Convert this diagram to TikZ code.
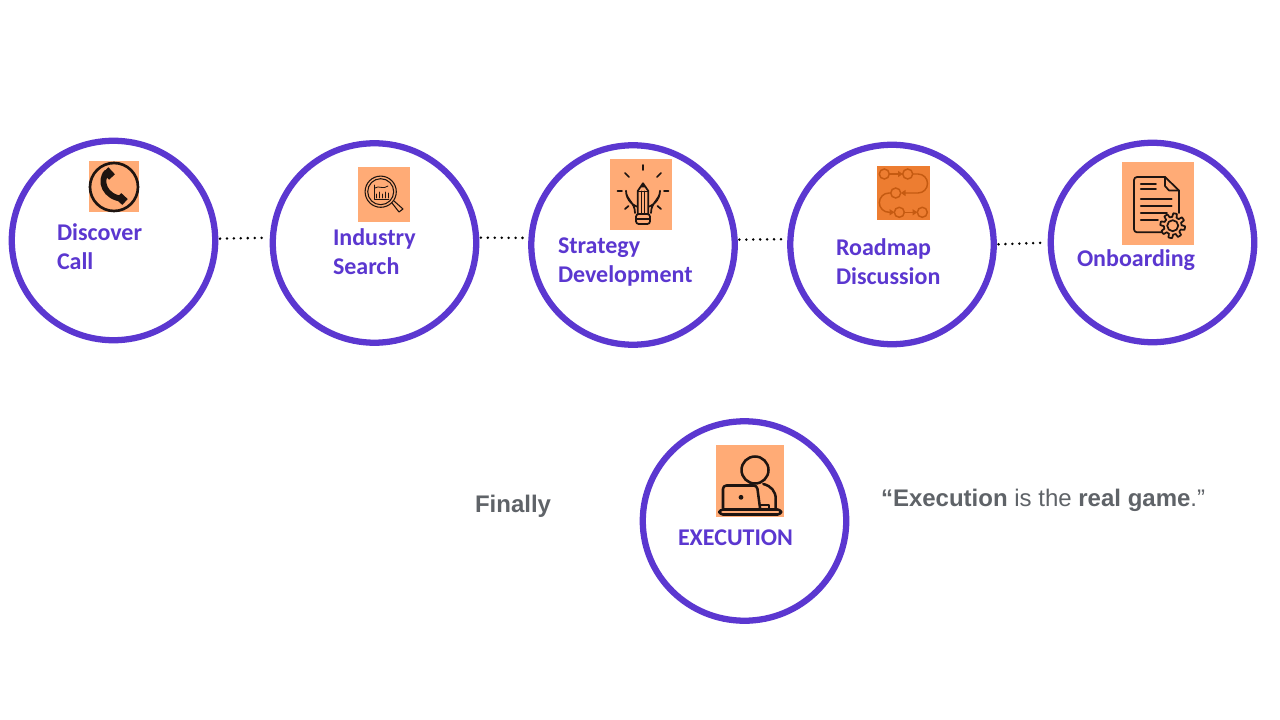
\documentclass[tikz,border=0pt]{standalone}
\usepackage{fontspec}
\setmainfont{Liberation Sans}
\newfontfamily\lblfont{Carlito}
\usetikzlibrary{shapes.geometric}
\definecolor{ringc}{HTML}{5B37D0}
\definecolor{peach}{HTML}{FFAB76}
\definecolor{roadbg}{HTML}{ED7D31}
\definecolor{roadln}{HTML}{C55A11}
\definecolor{ink}{HTML}{1E1410}
\definecolor{greyt}{HTML}{5F6368}
\tikzset{
 ring/.style={ellipse,draw=ringc,line width=4.7pt,inner sep=0,outer sep=0,minimum width=152.6pt,minimum height=149.6pt},
 dotline/.style={line width=2.1pt,line cap=round,dash pattern=on 0pt off 5.2pt,black,shorten <=3.6pt,shorten >=4.2pt},
 lbl/.style={font=\lblfont\bfseries\fontsize{18pt}{21.7pt}\selectfont,text=ringc,align=left,anchor=base west,inner sep=0,outer sep=0},
 note/.style={font=\bfseries\fontsize{18pt}{20pt}\selectfont,text=greyt,anchor=base west,inner sep=0,outer sep=0},
 tile/.style={fill=peach,draw=none,inner sep=0,outer sep=0,anchor=north west},
 ic/.style={draw=ink,line width=1.3pt,line cap=round,line join=round},
}
\begin{document}
\begin{tikzpicture}[x=0.75pt,y=-0.75pt]
\useasboundingbox (0,0) rectangle (1280,720);
\fill[white] (0,0) rectangle (1280,720);
% rings
\node[ring] (c1) at (113.5,240.5) {};
\node[ring] (c2) at (374.5,243) {};
\node[ring] (c3) at (633,245) {};
\node[ring] (c4) at (892,244.5) {};
\node[ring] (c5) at (1152.5,242.5) {};
\node[ring] (c6) at (744.5,521) {};
% connectors
\draw[dotline] (c1.1.5) -- (c2.177);
\draw[dotline] (c2.3) -- (c3.176);
\draw[dotline] (c3.3.2) -- (c4.177.2);
\draw[dotline] (c4.0) -- (c5.180);
% tiles
\node[tile,minimum width=37.5pt,minimum height=38.25pt] (t1) at (89,161) {};
\node[tile,minimum width=39pt,minimum height=41.25pt] (t2) at (358,167) {};
\node[tile,minimum width=46.5pt,minimum height=53.25pt] (t3) at (610,159) {};
\node[tile,fill=roadbg,minimum width=39.75pt,minimum height=40.5pt] (t4) at (877,166) {};
\node[tile,minimum width=54pt,minimum height=62.25pt] (t5) at (1122,162) {};
\node[tile,minimum width=51pt,minimum height=54pt] (t6) at (716,445) {};
% phone icon
\draw[ic,line width=2pt] (114,187) circle (24);
\draw[ink,line width=4.4pt,line cap=butt] (107,172) .. controls (99,180) and (104,198) .. (124,199);
\draw[ink,line width=6pt,line cap=butt] (105.5,170) -- (112,177);
\draw[ink,line width=6pt,line cap=butt] (118.5,196) -- (125,202);
% search icon
\draw[ic,line width=.8pt] (380.7,191.7) circle (15.6);
\draw[ic,line width=.8pt] (380.7,191.7) circle (13);
\draw[ic,line width=.8pt] (392,203) -- (399,212) -- (403,209) -- (394,201);
\draw[ic,line width=.6pt] (374,185) -- (374,199) -- (389,199);
\draw[ic,line width=.6pt] (375,188) .. controls (379,185) and (383,190) .. (388,186);
\draw[ic,line width=.6pt] (376,194) -- (376,198) (379,192) -- (379,198) (382,194) -- (382,198) (385,192) -- (385,198) (388,193) -- (388,198);
% bulb icon
\draw[ic] (635,213) .. controls (635,202) and (626,200) .. (626,190.7) arc[start angle=180,end angle=0,radius=17] .. controls (660,200) and (651,202) .. (651,213);
\foreach \a/\b/\c/\d in {643/165/643/170,625/173/629/177,661/173/657/177,617.5/190.7/622/190.7,664/190.7/668.5/190.7,625/209/628.5/206,661/209/657.5/206}{\draw[ic,line width=1.3pt] (\a,\b) -- (\c,\d);}
\draw[ic,fill=peach] (637.7,214) -- (637.7,191) -- (643,183.3) -- (648.3,191) -- (648.3,214);
\fill[ink] (643,183.3) -- (640.5,187.5) -- (645.5,187.5) -- cycle;
\draw[ic,line width=.7pt] (637.7,191) -- (648.3,191) (641.2,191) -- (641.2,214) (644.8,191) -- (644.8,214);
\draw[ic,rounded corners=2pt] (636,214) -- (650,214) -- (650,224) -- (636,224) -- cycle;
\draw[ic,line width=.9pt] (636,219) -- (650,219);
% roadmap icon
\begin{scope}[draw=roadln,line width=1.1pt,line cap=round]
\draw (884.3,174) circle (5);
\draw (907.7,174) circle (5);
\draw (895.7,193) circle (5);
\draw (899.3,212.3) circle (5);
\draw (922.3,212.3) circle (5);
\draw (889.3,174) -- (899,174);
\fill[roadln] (902.7,174) -- (898,170.8) -- (898,177.2) -- cycle;
\draw (912.7,174) -- (918,174) arc[start angle=-90,end angle=90,radius=9.5] -- (904,193);
\fill[roadln] (900.9,193) -- (905.6,189.8) -- (905.6,196.2) -- cycle;
\draw (890.7,193) -- (889,193) arc[start angle=270,end angle=90,radius=9.65] -- (891,212.3);
\fill[roadln] (894.3,212.3) -- (889.6,209.1) -- (889.6,215.5) -- cycle;
\draw (904.3,212.3) -- (914,212.3);
\fill[roadln] (917.3,212.3) -- (912.6,209.1) -- (912.6,215.5) -- cycle;
\end{scope}
% document icon
\draw[ic] (1163,232.3) -- (1137,232.3) arc[start angle=90,end angle=180,radius=3] -- (1134,180) arc[start angle=180,end angle=270,radius=3] -- (1165,177) -- (1179,190.5) -- (1179,213);
\draw[ic] (1165,177) -- (1165,186) -- (1169,190.5) -- (1179,190.5);
\foreach \yy/\xa in {184.3/1156,189/1156,199/1171.7,206/1171.7,213.3/1167,220/1158}{\draw[ic] (1140.7,\yy) -- (\xa,\yy);}
\draw[ic,fill=peach] plot[domain=0:360,samples=129] ({1172.7+(10.6+max(-1.8,min(1.8,5*sin(8*\x))))*cos(\x)},{225.7+(10.6+max(-1.8,min(1.8,5*sin(8*\x))))*sin(\x)}) -- cycle;
\draw[ic] (1172.7,225.7) circle (5.5);
% person icon
\draw[ic,line width=1.9pt] (755,470) circle (13.5);
\draw[ic,line width=1.9pt,rounded corners=2.5pt] (723,508) -- (723,485.5) -- (757,485.5) -- (760,508);
\draw[ic,line width=1.9pt] (763.3,484) .. controls (771,486) and (775.7,491) .. (775.7,499) -- (775.7,509);
\draw[ic,line width=1.3pt] (760,505) -- (769,505) -- (769,509);
\fill[ink] (741,497.3) circle (2.4);
\draw[ic,line width=1.9pt,rounded corners=2.5pt] (719.5,509.5) rectangle (781,514.5);
% labels
\node[lbl] (l1) at (57,269) {Discover\\Call};
\node[lbl] (l2) at (333,274) {Industry\\Search};
\node[lbl] (l3) at (558,282) {Strategy\\Development};
\node[lbl] (l4) at (836,284) {Roadmap\\Discussion};
\node[lbl] (l5) at (1077,266) {Onboarding};
\node[lbl] (l6) at (678,545) {EXECUTION};
\node[note] (n1) at (475,512) {Finally};
\node[note] (n2) at (881,506) {“Execution {\mdseries is the }real game{\mdseries .”}};
\end{tikzpicture}
\end{document}
